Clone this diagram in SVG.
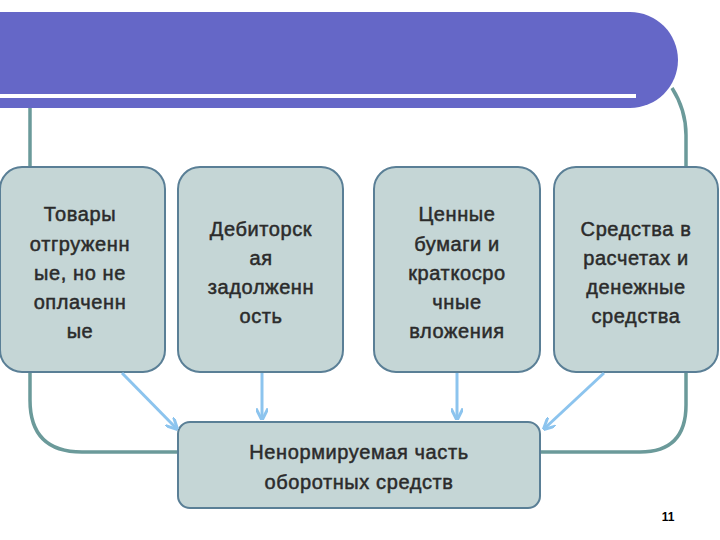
<svg xmlns="http://www.w3.org/2000/svg" width="720" height="540" viewBox="0 0 720 540">
<defs>
<style>
.box{fill:#c5d6d6;stroke:#5a7f96;stroke-width:2}
.t{font-family:"Liberation Sans",Arial,sans-serif;font-size:20px;fill:#2b2b2b;stroke:#2b2b2b;stroke-width:0.5;text-anchor:middle;letter-spacing:0.6px}
.frame{fill:none;stroke:#6b9a9a;stroke-width:3.5}
.arr{stroke:#8cc4ee;stroke-width:3;fill:none;marker-end:url(#ah)}
</style>
<marker id="ah" viewBox="0 0 10 10" refX="8" refY="5" markerWidth="4" markerHeight="4" orient="auto"><path d="M0,0 L10,5 L0,10" fill="none" stroke="#8cc4ee" stroke-width="2.5"/></marker>
</defs>
<g id="frame">
<path class="frame" d="M30,100 V400 Q30,452 82,452 H180"/>
<path class="frame" d="M672,88 Q686,110 686,135 V405 Q686,452 640,452 H540"/>
</g>
<g id="header">
<path d="M0,12 H630 A43,43 0 0 1 630,108 H0 Z" fill="#6567c7"/>
<rect x="0" y="94" width="636" height="4" fill="#ffffff"/>
</g>
<g id="n1"><rect class="box" x="0" y="167" width="165" height="205" rx="22"/>
<text class="t"><tspan x="80" y="221">Товары</tspan><tspan x="80" y="251">отгруженн</tspan><tspan x="80" y="280">ые, но не</tspan><tspan x="80" y="309">оплаченн</tspan><tspan x="80" y="338">ые</tspan></text></g>
<g id="n2"><rect class="box" x="178" y="167" width="165" height="205" rx="22"/>
<text class="t"><tspan x="261" y="236">Дебиторск</tspan><tspan x="261" y="265">ая</tspan><tspan x="261" y="294">задолженн</tspan><tspan x="261" y="323">ость</tspan></text></g>
<g id="n3"><rect class="box" x="374" y="167" width="166" height="205" rx="22"/>
<text class="t"><tspan x="457" y="221">Ценные</tspan><tspan x="457" y="251">бумаги и</tspan><tspan x="457" y="280">краткосро</tspan><tspan x="457" y="309">чные</tspan><tspan x="457" y="338">вложения</tspan></text></g>
<g id="n4"><rect class="box" x="554" y="167" width="164" height="205" rx="22"/>
<text class="t"><tspan x="636" y="236">Средства в</tspan><tspan x="636" y="265">расчетах и</tspan><tspan x="636" y="294">денежные</tspan><tspan x="636" y="323">средства</tspan></text></g>
<g id="n5"><rect class="box" x="178" y="422" width="362" height="86" rx="12"/>
<text class="t"><tspan x="359" y="459">Ненормируемая часть</tspan><tspan x="359" y="489">оборотных средств</tspan></text></g>
<g id="connectors">
<line class="arr" x1="122" y1="373" x2="176" y2="428"/>
<line class="arr" x1="262" y1="373" x2="262" y2="418"/>
<line class="arr" x1="457" y1="373" x2="457" y2="418"/>
<line class="arr" x1="604" y1="373" x2="545" y2="428"/>
</g>
<text x="668" y="521" font-family="Liberation Sans,Arial,sans-serif" font-size="12" font-weight="bold" fill="#000" text-anchor="middle">11</text>
</svg>
